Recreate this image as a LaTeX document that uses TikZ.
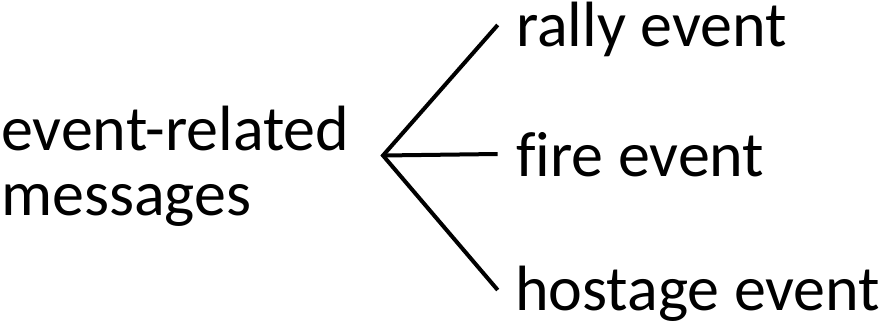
\documentclass[tikz,border=0pt]{standalone}
\usepackage{fontspec}
\setmainfont{Carlito}[Ligatures=NoCommon]
\begin{document}
\begin{tikzpicture}[x=1pt,y=-1pt,
  label/.style={inner sep=0pt,anchor=base west,font=\fontsize{64}{64.3}\selectfont},
  branch/.style={line width=4pt,line cap=butt}]
\useasboundingbox (0,0) rectangle (883,321);
% source label on the left (base anchor sits on the last line)
\node[label,align=left] (src) at (1,215) {event-related\\messages};
% category labels on the right
\node[label] (rally) at (516,47) {rally event};
\node[label] (fire) at (516,176) {fire event};
\node[label] (hostage) at (515,310) {hostage event};
% branch point and branch ends
\coordinate (apex) at (383,155.5);
\coordinate (etop) at (497.7,25);
\coordinate (emid) at (497.7,154);
\coordinate (ebot) at (497.7,290);
\draw[branch] (etop) -- (apex) -- (ebot);
\draw[branch] (apex) -- (emid);
\end{tikzpicture}
\end{document}
